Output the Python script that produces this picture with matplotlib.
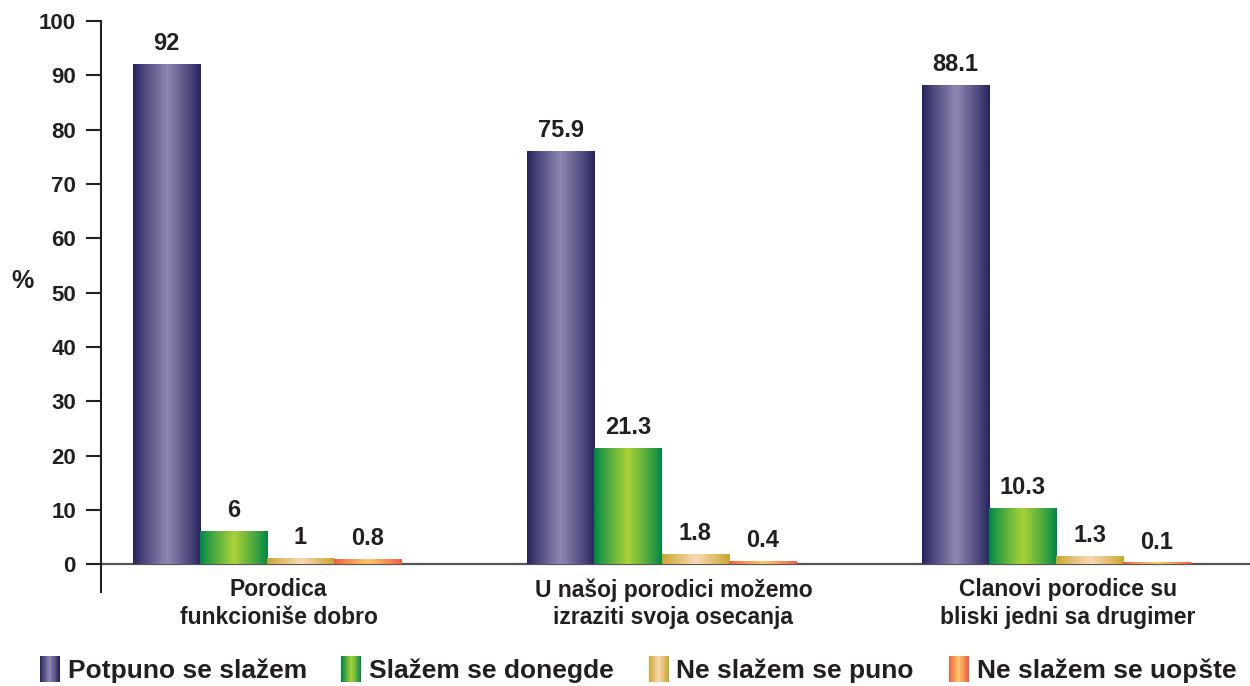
import numpy as np
import matplotlib
matplotlib.use("Agg")
import matplotlib.pyplot as plt
from matplotlib.patches import Rectangle, Patch
from matplotlib.legend_handler import HandlerBase
from matplotlib.colors import to_rgb

plt.rcParams['font.family'] = ['Liberation Sans', 'DejaVu Sans']
plt.rcParams['font.weight'] = 'bold'

categories = ["Porodica\nfunkcioniše dobro",
              "U našoj porodici možemo\nizraziti svoja osecanja",
              "Clanovi porodice su\nbliski jedni sa drugimer"]
series = ["Potpuno se slažem", "Slažem se donegde", "Ne slažem se puno", "Ne slažem se uopšte"]
values = [
    [92, 75.9, 88.1],
    [6, 21.3, 10.3],
    [1, 1.8, 1.3],
    [0.8, 0.4, 0.1],
]
labels = [
    ["92", "75.9", "88.1"],
    ["6", "21.3", "10.3"],
    ["1", "1.8", "1.3"],
    ["0.8", "0.4", "0.1"],
]
# (edge colour, centre colour) of each cylinder-like gradient
grads = [("#28225e", "#8d88b2"),
         ("#008848", "#aad236"),
         ("#c9a62c", "#f9d8b2"),
         ("#f05d42", "#fbc86a")]
txt = "#231f20"


def grad_row(c0, c1, n=64):
    a = np.array(to_rgb(c0))
    b = np.array(to_rgb(c1))
    t = np.linspace(-1, 1, n)
    w = (1 - np.abs(t)) ** 0.9
    return a[None, :] * (1 - w[:, None]) + b[None, :] * w[:, None]


class GradHandler(HandlerBase):
    def __init__(self, c0, c1):
        super().__init__()
        self.c0, self.c1 = c0, c1

    def create_artists(self, legend, orig_handle, xdescent, ydescent, width, height, fontsize, trans):
        n = 24
        cols = grad_row(self.c0, self.c1, n)
        out = []
        for k in range(n):
            out.append(Rectangle((-xdescent + k * width / n, -ydescent - 0.12 * height), width / n + 0.01,
                                 height * 1.25, facecolor=cols[k], edgecolor='none', transform=trans))
        return out


fig = plt.figure(figsize=(12.5, 6.86), dpi=100)
ax = fig.add_axes([0.0808, 0.137, 0.919, 0.8324])

x = np.arange(len(categories))
bw = 0.17
offs = (np.arange(len(series)) - 1.5) * bw

for si in range(len(series)):
    bars = ax.bar(x + offs[si], values[si], bw, color=grads[si][0], linewidth=0)
    row = grad_row(*grads[si])[None, :, :]
    for b, lab in zip(bars, labels[si]):
        x0 = b.get_x()
        ax.imshow(row, extent=[x0, x0 + b.get_width(), 0, max(b.get_height(), 0.35)], aspect='auto',
                  interpolation='bilinear', zorder=3)
        ax.text(x0 + b.get_width() / 2, b.get_height() + 1.8, lab, ha='center', va='bottom',
                fontsize=17, fontweight='bold', color=txt)

for xi, c in zip(x, categories):
    ax.text(xi + 0.03, -2.6, c, ha='center', va='top', fontsize=16.5, fontweight='bold',
            color=txt, linespacing=1.25)

ax.set_xlim(-0.42, 2.49)
ax.set_ylim(-5.1, 100)
ax.set_yticks(np.arange(0, 101, 10))
ax.set_xticks([])
ax.axhline(0, color="#555555", lw=1.6, zorder=2)
for s in ['top', 'right', 'bottom']:
    ax.spines[s].set_visible(False)
ax.spines['left'].set_color(txt)
ax.spines['left'].set_linewidth(1.5)
ax.tick_params(axis='y', direction='out', length=11, width=1.5, color=txt,
               labelsize=16, labelcolor=txt, pad=7)
for t in ax.get_yticklabels():
    t.set_fontweight('bold')
fig.text(0.018, 0.59, "%", fontsize=18, fontweight='bold', color=txt, ha='center', va='center')

handles = [Patch(label=s) for s in series]
hmap = {h: GradHandler(*g) for h, g in zip(handles, grads)}
fig.legend(handles=handles, handler_map=hmap, loc='center', bbox_to_anchor=(0.5104, 0.022),
           ncol=4, frameon=False, handlelength=0.75, handleheight=0.8,
           handletextpad=0.3, columnspacing=1.32, prop={'weight': 'bold', 'size': 19})
for t in fig.legends[0].get_texts():
    t.set_color(txt)

fig.savefig("out.png", dpi=100)
